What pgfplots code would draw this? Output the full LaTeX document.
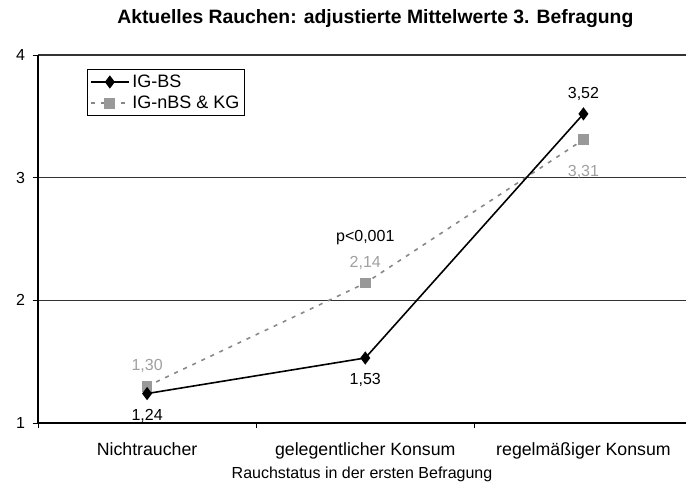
\documentclass[border=0pt]{standalone}
\usepackage{pgfplots}
\pgfplotsset{compat=1.18}
\usepackage{fontspec}
\setmainfont{Liberation Sans}
\definecolor{graymark}{HTML}{999999}
\definecolor{grayline}{HTML}{888888}
\definecolor{graytext}{HTML}{A0A0A0}

\begin{document}
\begin{tikzpicture}
\begin{axis}[
    scale only axis, width=486pt, height=276pt,
    xmin=-0.5, xmax=2.47, ymin=1, ymax=4,
    axis lines*=left,
    axis line style={black, line width=0.8pt},
    xtick={-0.5,0.5,1.5}, xticklabels={},
    extra x ticks={0,1,2},
    extra x tick labels={Nichtraucher, gelegentlicher Konsum, regelmäßiger Konsum},
    extra x tick style={major tick length=0pt, grid=none,
        tick label style={font=\fontsize{13.3}{15}\selectfont, anchor=base, yshift=-24.5pt}},
    ytick={1,2,3,4},
    yticklabel style={font=\fontsize{12}{14}\selectfont, anchor=center, xshift=-9pt},
    major tick length=4pt,
    tick align=outside,
    tick style={black, line width=0.6pt},
    /pgf/number format/assume math mode=true,
    ymajorgrids, grid style={black!80, line width=0.8pt},
    xlabel={Rauchstatus in der ersten Befragung},
    xlabel style={font=\fontsize{12}{14}\selectfont, at={(0.5,0)}, anchor=center, yshift=-38.5pt},
    title={Aktuelles Rauchen: adjustierte Mittelwerte 3. Befragung},
    title style={font=\fontsize{14.5}{17}\selectfont\bfseries, at={(0.5,1)}, anchor=center, yshift=21.5pt, xshift=10pt},
    legend style={at={(0.0756,0.962)}, anchor=north west, draw=black, line width=0.6pt,
        fill=white, font=\fontsize{13.5}{16}\selectfont, inner sep=2pt, row sep=1pt},
    legend cell align=left,
    reverse legend,
    legend image code/.code={
        \draw[mark repeat=2, mark phase=2] plot coordinates {(0cm,0cm) (0.5cm,0cm) (1.0cm,0cm)};
    },
]
\addplot[grayline, line width=1.2pt, dash pattern=on 3pt off 4.5pt,
    mark=square*, mark size=3.4pt, mark options={solid, draw=graymark, fill=graymark}]
    coordinates {(0,1.30) (1,2.14) (2,3.31)};
\addlegendentry{IG-nBS \& KG}
\addplot[black, line width=1.2pt, mark=diamond*, mark size=4pt, mark options={solid, fill=black}]
    coordinates {(0,1.24) (1,1.53) (2,3.52)};
\addlegendentry{IG-BS}

% data labels
\addplot[forget plot, draw=none, mark=none, nodes near coords, point meta=y,
    nodes near coords style={text=black, font=\fontsize{12}{14}\selectfont, anchor=center, yshift=-16.5pt,
        /pgf/number format/.cd, use comma, fixed, fixed zerofill, precision=2}]
    coordinates {(0,1.24) (1,1.53)};
\addplot[forget plot, draw=none, mark=none, nodes near coords, point meta=y,
    nodes near coords style={text=black, font=\fontsize{12}{14}\selectfont, anchor=center, yshift=15pt,
        /pgf/number format/.cd, use comma, fixed, fixed zerofill, precision=2}]
    coordinates {(2,3.52)};
\addplot[forget plot, draw=none, mark=none, nodes near coords, point meta=y,
    nodes near coords style={text=graytext, font=\fontsize{12}{14}\selectfont, anchor=center, yshift=15pt,
        /pgf/number format/.cd, use comma, fixed, fixed zerofill, precision=2}]
    coordinates {(0,1.30) (1,2.14)};
\addplot[forget plot, draw=none, mark=none, nodes near coords, point meta=y,
    nodes near coords style={text=graytext, font=\fontsize{12}{14}\selectfont, anchor=center, yshift=-24.5pt,
        /pgf/number format/.cd, use comma, fixed, fixed zerofill, precision=2}]
    coordinates {(2,3.31)};
\node[font=\fontsize{12}{14}\selectfont, text=black] at (axis cs:1,2.51) {p<0,001};
\end{axis}
\pgfresetboundingbox
\path ([xshift=-28.5pt, yshift=-47.25pt]current axis.south west) rectangle ([yshift=41.25pt]current axis.north east);
\end{tikzpicture}
\end{document}
